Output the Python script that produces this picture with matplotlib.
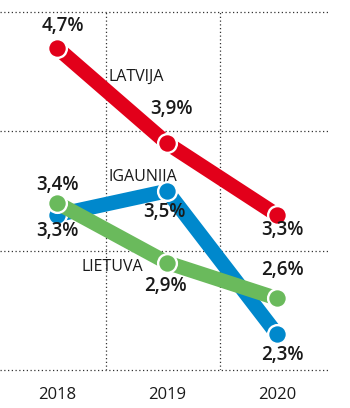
import matplotlib
matplotlib.use('Agg')
import matplotlib.pyplot as plt

years = ['2018', '2019', '2020']
latvija = [4.7, 3.9, 3.3]
igaunija = [3.3, 3.5, 2.3]
lietuva = [3.4, 2.9, 2.6]

RED = '#e2001a'
BLUE = '#0088cc'
GREEN = '#6aba5c'
INK = '#1a1a1a'

plt.rcParams['font.family'] = ['Open Sans', 'DejaVu Sans']

fig = plt.figure(figsize=(3.5, 4.08), dpi=100)
ax = fig.add_axes([0, 0.0931, 0.9429, 0.8775])
xs = list(range(len(years)))

# series drawn bottom to top: blue, green, red
series = [(igaunija, BLUE), (lietuva, GREEN), (latvija, RED)]
for i, (vals, col) in enumerate(series):
    ax.plot(xs, vals, color=col, lw=10.5, solid_capstyle='butt', zorder=3 + 2 * i)
    ax.plot(xs, vals, 'o', color=col, ms=13.5, mec='white', mew=1.7, zorder=4 + 2 * i,
            clip_on=False)

# value labels (offsets in pixels from the point)
offsets = {
    'lat': [(6, 22), (4, 34), (5, -15)],
    'iga': [(0, -16), (-3, -21), (5, -21)],
    'lie': [(0, 18), (-2, -23), (5, 28)],
}
for vals, key in [(latvija, 'lat'), (igaunija, 'iga'), (lietuva, 'lie')]:
    for x, v, off in zip(xs, vals, offsets[key]):
        ax.annotate(f'{v:.1f}%'.replace('.', ','), (x, v), xytext=off,
                    textcoords='offset pixels', ha='center', va='center',
                    fontsize=13.5, fontweight='semibold', color=INK, zorder=10)

ax.text(0.47, 4.46, 'LATVIJA', ha='left', va='center', fontsize=11.5, color=INK)
ax.text(0.47, 3.62, 'IGAUNIJA', ha='left', va='center', fontsize=11.5, color=INK)
ax.text(0.225, 2.86, 'LIETUVA', ha='left', va='center', fontsize=11.5, color=INK)

ax.set_xlim(-0.518, 2.482)
ax.set_ylim(2, 5)
for y in [2, 3, 4, 5]:
    ax.axhline(y, color='#333333', lw=0.9, ls=(0, (1, 2)), zorder=1, clip_on=False)
for x in [0.45, 1.48]:
    ax.axvline(x, color='#333333', lw=0.9, ls=(0, (1, 2)), zorder=1)

ax.set_xticks(xs)
ax.set_xticklabels(years, fontsize=12, color=INK)
ax.tick_params(axis='x', length=0, pad=12)
ax.set_yticks([])
for s in ax.spines.values():
    s.set_visible(False)

fig.savefig('out.png', dpi=100)
